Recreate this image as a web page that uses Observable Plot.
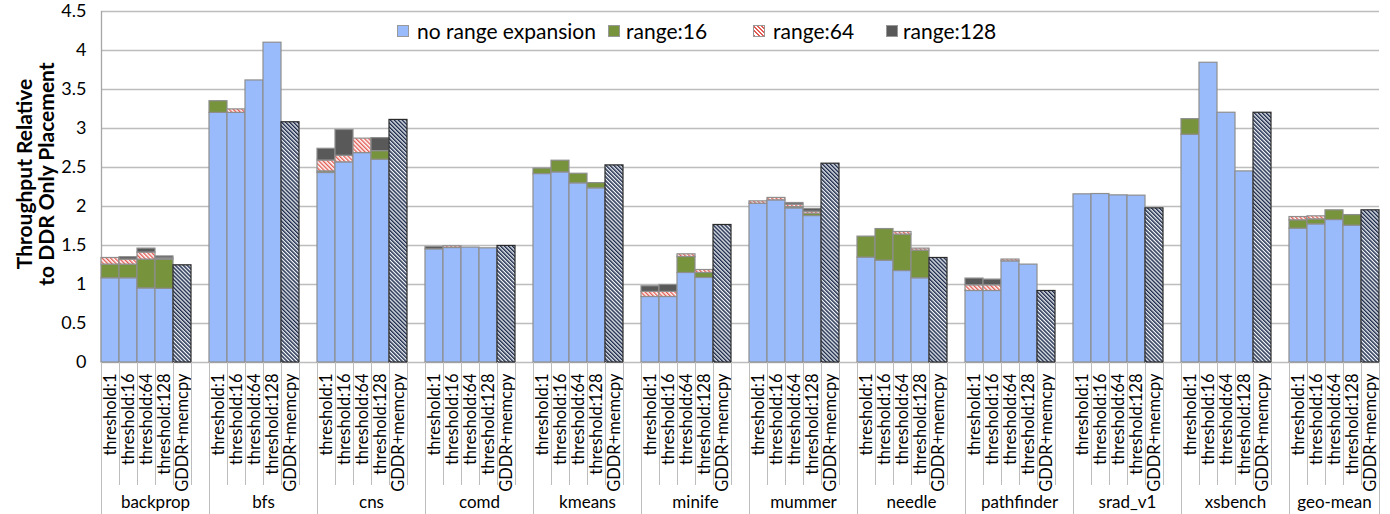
<!DOCTYPE html>
<html><head><meta charset="utf-8">
<script src="https://cdn.jsdelivr.net/npm/d3@7"></script>
<script src="https://cdn.jsdelivr.net/npm/@observablehq/plot@0.6"></script>
<style>
body{margin:0;background:#fff;font-family:Lato,"Noto Sans",sans-serif;}
#wrap{position:relative;width:1390px;height:514px;overflow:hidden;}
.lg{position:absolute;top:19px;font-size:21px;line-height:24px;color:#000;white-space:nowrap;}
.sw{position:absolute;top:25px;width:12px;height:12px;box-sizing:border-box;border:1px solid #999;}
</style></head><body><div id="wrap"><div id="chart"></div><div id="legend"></div></div>
<script>
const groups = ["backprop","bfs","cns","comd","kmeans","minife","mummer","needle","pathfinder","srad_v1","xsbench","geo-mean"];
const configs = ["threshold:1","threshold:16","threshold:64","threshold:128","GDDR+memcpy"];
const seriesNames = ["no range expansion","range:16","range:64","range:128"];
// segment heights, 4 thresholds per group (group-major)
const noRange = [1.08,1.08,0.95,0.945, 3.20,3.20,3.616,4.10, 2.43,2.566,2.685,2.60, 1.451,1.468,1.473,1.464,
  2.416,2.437,2.297,2.233, 0.84,0.84,1.148,1.084, 2.036,2.079,1.976,1.878, 1.345,1.306,1.173,1.08,
  0.917,0.917,1.297,1.255, 2.156,2.16,2.143,2.139, 2.92,3.843,3.202,2.45, 1.716,1.771,1.827,1.755];
const range16 = [0.175,0.175,0.37,0.375, 0.15,0,0,0, 0.02,0,0,0.11, 0,0,0,0,
  0.07,0.15,0.123,0.067, 0,0,0.205,0.064, 0,0,0.017,0.03, 0.269,0.405,0.467,0.355,
  0,0,0,0, 0,0,0,0, 0.2,0,0,0, 0.107,0.064,0.124,0.135];
const range64 = [0.085,0.065,0.09,0.015, 0,0.045,0,0, 0.14,0.085,0.185,0, 0,0.022,0,0,
  0,0,0,0, 0.065,0.065,0.034,0.038, 0.03,0.031,0.031,0.026, 0,0,0.033,0.025,
  0.073,0.073,0.023,0, 0,0,0,0, 0,0,0,0, 0.042,0.039,0,0];
const range128 = [0,0.03,0.05,0.025, 0,0,0,0, 0.15,0.33,0,0.167, 0.03,0,0,0,
  0,0,0,0, 0.072,0.089,0,0, 0,0,0.021,0.034, 0,0,0,0,
  0.086,0.073,0,0, 0,0,0,0, 0,0,0,0, 0,0,0,0];
const gddrMemcpy = [1.246,3.08,3.11,1.494,2.527,1.763,2.549,1.34,0.917,1.976,3.202,1.951];
const yTicks = [0,0.5,1,1.5,2,2.5,3,3.5,4,4.5];
const seriesColors = ["#99bbfb","#77933c","url(#hatchRed)","#595959"];

const SLOTS = 6;
const nSlots = groups.length * SLOTS - 1;
const stacked = [];
groups.forEach((g, gi) => {
  for (let c = 0; c < 4; c++) {
    const i = gi * 4 + c, slot = gi * SLOTS + c;
    [noRange[i], range16[i], range64[i], range128[i]].forEach((v, s) => {
      if (v > 0) stacked.push({slot, series: seriesNames[s], value: v});
    });
  }
});
const gddr = groups.map((g, gi) => ({slot: gi * SLOTS + 4, value: gddrMemcpy[gi]}));

const subLabel = new Map();
const subBounds = [];
const groupBounds = [];
const groupLabel = new Map();
groups.forEach((g, gi) => {
  const s0 = gi * SLOTS;
  groupBounds.push(s0);
  configs.forEach((c, ci) => { subLabel.set(s0 + ci + 0.5, c); subBounds.push(s0 + ci + 1); });
  const end = Math.min(s0 + SLOTS, nSlots);
  groupLabel.set((s0 + end) / 2, g);
});
groupBounds.push(nSlots);

const chart = Plot.plot({
  width: 1390, height: 514,
  marginLeft: 101, marginRight: 11, marginTop: 11, marginBottom: 152,
  style: {fontFamily: 'Lato, "Noto Sans", sans-serif', fontSize: "16px", color: "#000", background: "#fff", overflow: "visible"},
  x: {type: "linear", domain: [0, nSlots], label: null},
  y: {domain: [0, 4.5], label: null},
  color: {domain: seriesNames, range: seriesColors},
  marks: [
    Plot.ruleY(yTicks, {stroke: "#bdbdbd", strokeWidth: 1.3}),
    Plot.ruleX([0], {y1: 0, y2: 4.5, stroke: "#a6a6a6", strokeWidth: 1.3}),
    Plot.rectY(stacked, {x1: "slot", x2: d => d.slot + 1, y: "value", fill: "series", stroke: "#8e8e8e", strokeWidth: 1.2, inset: 0}),
    Plot.rectY(gddr, {x1: "slot", x2: d => d.slot + 1, y: "value", fill: "url(#hatchNavy)", stroke: "#2a2a2a", strokeWidth: 1.2, inset: 0}),
    Plot.axisY({ticks: yTicks, tickSize: 0, tickPadding: 15, fontSize: 18, tickFormat: d => String(d), label: null}),
    Plot.axisX({ticks: [...subLabel.keys()], tickSize: 0, tickPadding: 11, tickRotate: -90, fontSize: 16.5, tickFormat: d => subLabel.get(d), label: null}),
    Plot.axisX({ticks: subBounds, tickSize: 123, tickFormat: () => "", stroke: "#bdbdbd", label: null}),
    Plot.axisX({ticks: groupBounds, tickSize: 152, tickFormat: () => "", stroke: "#bdbdbd", label: null}),
    Plot.axisX({ticks: [...groupLabel.keys()], tickSize: 0, tickPadding: 133, fontSize: 17, tickFormat: d => groupLabel.get(d), label: null})
  ]
});
document.getElementById("chart").appendChild(chart);

const svg = d3.select(chart);
const defs = svg.insert("defs", ":first-child");
function hatch(id, bg, fg, size, lw) {
  const p = defs.append("pattern").attr("id", id).attr("patternUnits", "userSpaceOnUse")
    .attr("width", size).attr("height", size).attr("patternTransform", "rotate(-45)");
  p.append("rect").attr("width", size).attr("height", size).attr("fill", bg);
  p.append("rect").attr("width", lw).attr("height", size).attr("fill", fg);
}
hatch("hatchRed", "#ffffff", "#e25b52", 3, 1.4);
hatch("hatchNavy", "#f4f6fa", "#1f2e4d", 2.8, 1.5);

// y-axis title
const title = svg.append("g").attr("font-weight", "bold").attr("font-size", 21).attr("text-anchor", "middle").attr("fill", "#000");
[["Throughput Relative", 32], ["to DDR Only Placement", 54]].forEach(([t, x]) => {
  title.append("text").attr("transform", `translate(${x},174) rotate(-90)`).text(t);
});

// legend
const legend = document.getElementById("legend");
const swLeft = [397, 608, 753, 886], txLeft = [417, 626, 773, 903];
seriesNames.forEach((n, i) => {
  const sw = document.createElement("div");
  sw.className = "sw"; sw.style.left = swLeft[i] + "px";
  if (i === 2) sw.style.background = "repeating-linear-gradient(45deg,#e25b52 0 1.4px,#fff 1.4px 3px)";
  else sw.style.background = seriesColors[i];
  legend.appendChild(sw);
  const tx = document.createElement("div");
  tx.className = "lg"; tx.style.left = txLeft[i] + "px"; tx.textContent = n;
  legend.appendChild(tx);
});
</script></body></html>
